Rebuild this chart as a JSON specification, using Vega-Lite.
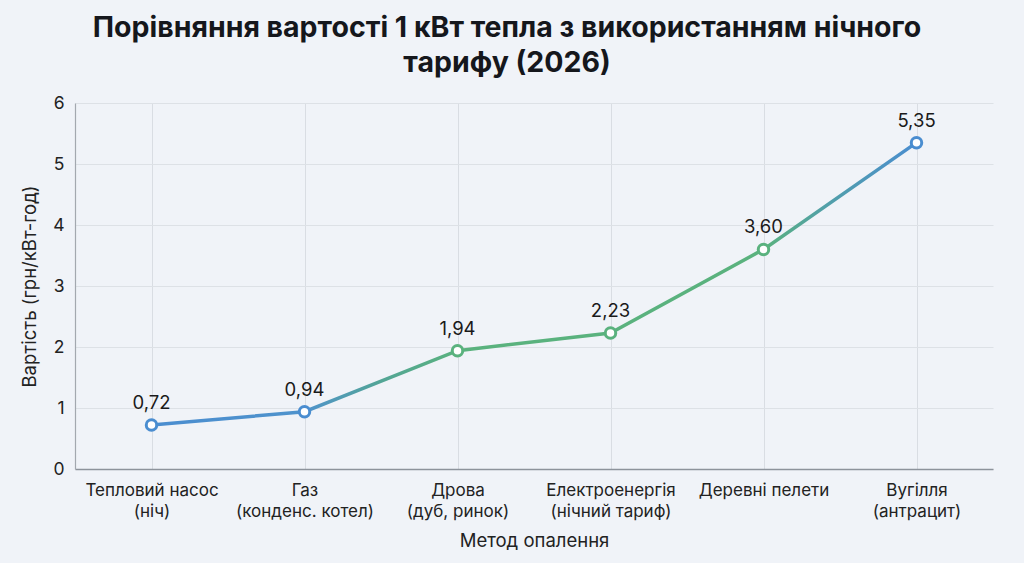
{
  "$schema": "https://vega.github.io/schema/vega-lite/v6.json",
  "width": 918,
  "height": 366,
  "autosize": "none",
  "padding": {"left": 75, "top": 103, "right": 31, "bottom": 94},
  "background": "#f0f3f8",
  "config": {
    "font": "Inter",
    "view": {"stroke": null},
    "locale": {"number": {"decimal": ",", "thousands": " ", "grouping": [3], "currency": ["", ""]}}
  },
  "title": {
    "text": ["Порівняння вартості 1 кВт тепла з використанням нічного", "тарифу (2026)"],
    "font": "Inter",
    "fontSize": 28.5,
    "fontWeight": "bold",
    "color": "#15171c",
    "lineHeight": 35,
    "anchor": "middle",
    "frame": "group",
    "dx": -27,
    "offset": 17
  },
  "data": {
    "values": [
      {"method": "Тепловий насос (ніч)", "cost": 0.72},
      {"method": "Газ (конденс. котел)", "cost": 0.94},
      {"method": "Дрова (дуб, ринок)", "cost": 1.94},
      {"method": "Електроенергія (нічний тариф)", "cost": 2.23},
      {"method": "Деревні пелети", "cost": 3.60},
      {"method": "Вугілля (антрацит)", "cost": 5.35}
    ]
  },
  "encoding": {
    "x": {
      "field": "method",
      "type": "nominal",
      "sort": null,
      "scale": {"type": "point", "padding": 0.5},
      "axis": {
        "title": "Метод опалення",
        "titleFont": "Inter",
        "titleFontSize": 18.5,
        "titleFontWeight": "normal",
        "titleColor": "#222",
        "titlePadding": 12,
        "labelAngle": 0,
        "labelFontSize": 17,
        "labelColor": "#222",
        "labelPadding": 13,
        "labelLineHeight": 21,
        "labelExpr": "split(replace(datum.label, ' (', '|('), '|')",
        "ticks": false,
        "grid": true,
        "gridColor": "#d9dde3",
        "domainColor": "#8d939b",
        "domainWidth": 1.5
      }
    },
    "y": {
      "field": "cost",
      "type": "quantitative",
      "scale": {"domain": [0, 6]},
      "axis": {
        "title": "Вартість (грн/кВт-год)",
        "titleFont": "Inter",
        "titleFontSize": 18.5,
        "titleFontWeight": "normal",
        "titleColor": "#222",
        "titlePadding": 13,
        "tickCount": 6,
        "format": "d",
        "labelFontSize": 17.5,
        "labelColor": "#222",
        "labelPadding": 11,
        "ticks": false,
        "grid": true,
        "gridColor": "#dde1e6",
        "domainColor": "#a3a8af",
        "domainWidth": 1.2
      }
    }
  },
  "layer": [
    {
      "mark": {
        "type": "line",
        "strokeWidth": 3.5,
        "color": {
          "gradient": "linear",
          "x1": 0, "y1": 0, "x2": 1, "y2": 0,
          "stops": [
            {"offset": 0, "color": "#4a8dd0"},
            {"offset": 0.2, "color": "#4f93cc"},
            {"offset": 0.3, "color": "#53a596"},
            {"offset": 0.4, "color": "#5ab27e"},
            {"offset": 0.8, "color": "#5ab27e"},
            {"offset": 0.88, "color": "#52a0a8"},
            {"offset": 1, "color": "#4a8dd0"}
          ]
        }
      }
    },
    {
      "mark": {"type": "point", "filled": true, "fill": "white", "size": 110, "strokeWidth": 3, "opacity": 1},
      "encoding": {
        "stroke": {
          "condition": {"test": "datum.cost < 1 || datum.cost > 5", "value": "#4a8dd0"},
          "value": "#5ab27e"
        }
      }
    },
    {
      "mark": {"type": "text", "dy": -22, "fontSize": 18.5, "color": "#1a1a1a", "font": "Inter"},
      "encoding": {
        "text": {"field": "cost", "type": "quantitative", "format": ".2f"}
      }
    }
  ]
}
